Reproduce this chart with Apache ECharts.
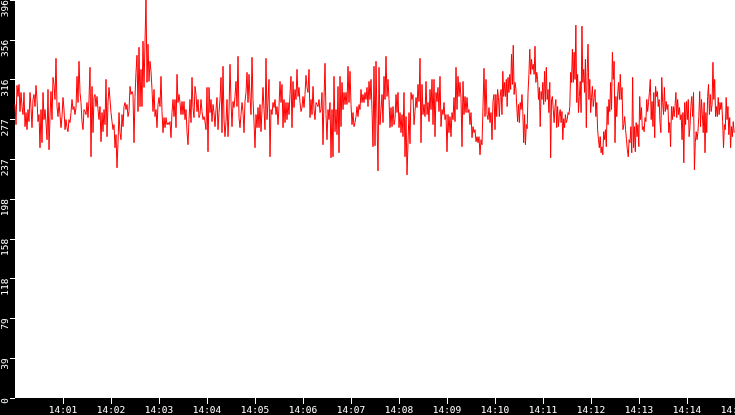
<!DOCTYPE html>
<html>
<head>
<meta charset="utf-8">
<script src="https://cdn.jsdelivr.net/npm/echarts@6/dist/echarts.min.js"></script>
<style>
html,body{margin:0;padding:0;background:#000;}
#chart{width:735px;height:415px;}
</style>
</head>
<body>
<div id="chart"></div>
<script>
// x tick labels (one per minute, 14:00 .. 14:15)
var xTickLabels = ['14:00','14:01','14:02','14:03','14:04','14:05','14:06','14:07','14:08','14:09','14:10','14:11','14:12','14:13','14:14','14:15'];
// y tick labels (0 .. 396, step 39.6, shown truncated)
var yTickLabels = ['0','39','79','118','158','198','237','277','316','356','396'];

// sampled values, one array per 2.5-minute window
var values_1400_1402 = [292,272,311,300,312,285,304,290,282,304,270,284,267,287,275,304,289,269,297,302,290,311,297,275,282,249,287,254,304,277,287,274,257,307,247,280,305,277,319,312,297,338,290,280,294,282,269,280,299,287,267,277,269,265,277,274,284,297,287,290,282,289,320,294,335,304,294,275,267,287,285,282,294,279,297,329,240,310,264,299,302,290,300,287,277,290,255,284,265,287,272,317,260,294,309,297,284,275,267,272,249,262,229,254,284,264,257,282,270,290,294,287,292,280,285,310,302,305,302,254];
var values_1402_1405 = [300,324,341,285,349,290,327,290,355,309,354,397,314,352,315,335,325,307,285,307,280,287,269,292,299,290,320,285,264,279,269,279,272,274,272,275,259,284,297,280,297,269,322,294,302,294,282,295,282,295,277,287,265,252,277,297,274,319,289,279,310,302,285,297,279,282,297,285,277,280,275,267,309,245,309,284,297,275,292,284,270,287,299,267,284,297,319,264,330,277,260,275,297,260,285,332,295,270,295,289,300,315,290,340,279,269,282,294,285,264,295,304,324,294,322,300,282,339,297,275];
var values_1405_1407 = [249,282,269,289,269,292,265,287,309,287,267,338,277,295,317,240,287,282,294,289,297,282,290,272,290,315,294,312,269,297,274,294,277,294,282,302,320,269,315,289,307,297,327,300,309,294,285,289,300,289,302,321,309,304,327,279,297,282,310,287,277,294,292,290,297,284,287,304,252,297,333,282,257,287,277,294,239,287,240,320,265,287,262,310,244,320,270,314,287,304,292,304,292,330,294,325,292,272,284,270,274,280,290,280,292,287,307,294,302,294,304,297,309,290,315,297,317,287,250,330];
var values_1407_1410 = [251,335,277,226,329,272,287,302,274,320,297,340,300,317,297,269,289,270,290,272,277,302,284,304,269,284,264,282,260,304,240,280,222,254,284,253,304,297,302,272,285,299,289,312,295,338,254,312,282,292,280,315,282,294,275,307,287,317,272,317,260,304,295,309,285,320,270,287,282,294,277,282,245,282,264,280,260,284,277,299,275,329,287,320,300,314,298,250,315,282,300,284,299,284,287,272,284,259,270,264,267,255,260,254,260,242,257,252,290,328,280,317,282,277,289,274,284,257,295,302];
var values_1410_1412 = [267,302,280,307,299,280,300,307,282,325,300,314,300,317,290,319,304,322,307,342,312,351,302,314,308,309,275,292,274,294,287,302,285,254,282,252,272,268,304,322,347,322,337,327,332,322,350,314,324,317,297,309,270,305,297,314,292,325,295,329,297,307,284,314,239,297,300,287,274,290,297,269,290,270,282,287,274,285,257,278,269,282,274,277,284,282,290,324,314,347,314,344,317,371,294,322,284,300,315,284,370,314,327,304,337,269,324,352,297,317,284,299,310,290,299,307,280,294,267,257,249,260,244,250,242,265,257,267,250,290,272,297,285,314,287,344,317,335];
var values_1412_1415 = [254,300,280,302,314,297,322,297,309,267,272,280,267,257,247,240,257,254,270,244,319,249,270,245,274,260,272,250,300,277,289,267,270,265,279,275,297,285,294,304,317,277,295,270,304,259,310,300,305,290,297,274,264,319,294,282,309,285,295,287,292,264,274,250,290,277,290,280,290,304,279,297,282,289,277,282,257,284,234,294,272,295,277,297,260,270,290,300,280,304,227,254,265,257,265,280,305,270,297,282,264,294,244,284,264,300,312,282,302,285,292,334,297,317,280,290,280,299,282,294,287,294,275,249,272,267,299,277,290,262,279,249,270,260,275,264];

var windows = [values_1400_1402, values_1402_1405, values_1405_1407, values_1407_1410, values_1410_1412, values_1412_1415];
var WINDOW_SEC = 150;

// build [secondsSince14:00, value] pairs; samples are evenly spread within each window
var data = [];
windows.forEach(function (arr, w) {
  var n = arr.length;
  for (var i = 0; i < n; i++) {
    data.push([w * WINDOW_SEC + i * WINDOW_SEC / n, arr[i]]);
  }
});

var chart = echarts.init(document.getElementById('chart'), null, {renderer: 'canvas'});
var font = 'DejaVu Sans Mono';
chart.setOption({
  animation: false,
  backgroundColor: '#000000',
  grid: {
    left: 15, right: 0, top: 0, bottom: 17,
    containLabel: false, outerBoundsMode: 'none',
    show: true, backgroundColor: '#ffffff', borderWidth: 0
  },
  xAxis: {
    type: 'value',
    min: 0, max: 900, interval: 60,
    axisLine: {show: false},
    axisTick: {show: true, length: 6, lineStyle: {color: '#ffffff', width: 1}},
    splitLine: {show: false},
    axisLabel: {
      color: '#ffffff', fontFamily: font, fontSize: 9.5, margin: 8,
      showMinLabel: false, showMaxLabel: true, hideOverlap: false,
      formatter: function (v) { return xTickLabels[Math.round(v / 60)]; }
    }
  },
  yAxis: {
    type: 'value',
    min: 0, max: 396, interval: 39.6,
    axisLine: {show: false},
    axisTick: {show: true, length: 5, lineStyle: {color: '#ffffff', width: 1}},
    splitLine: {show: false},
    axisLabel: {
      color: '#ffffff', fontFamily: font, fontSize: 9.5, margin: 4,
      rotate: 90, align: 'right', verticalAlign: 'bottom',
      showMinLabel: true, showMaxLabel: true, hideOverlap: false,
      formatter: function (v) { return yTickLabels[Math.round(v / 39.6)]; }
    }
  },
  series: [{
    type: 'line',
    data: data,
    showSymbol: false,
    symbol: 'none',
    sampling: null,
    clip: true,
    lineStyle: {color: '#ff0000', width: 1},
    itemStyle: {color: '#ff0000'}
  }]
});
</script>
</body>
</html>
